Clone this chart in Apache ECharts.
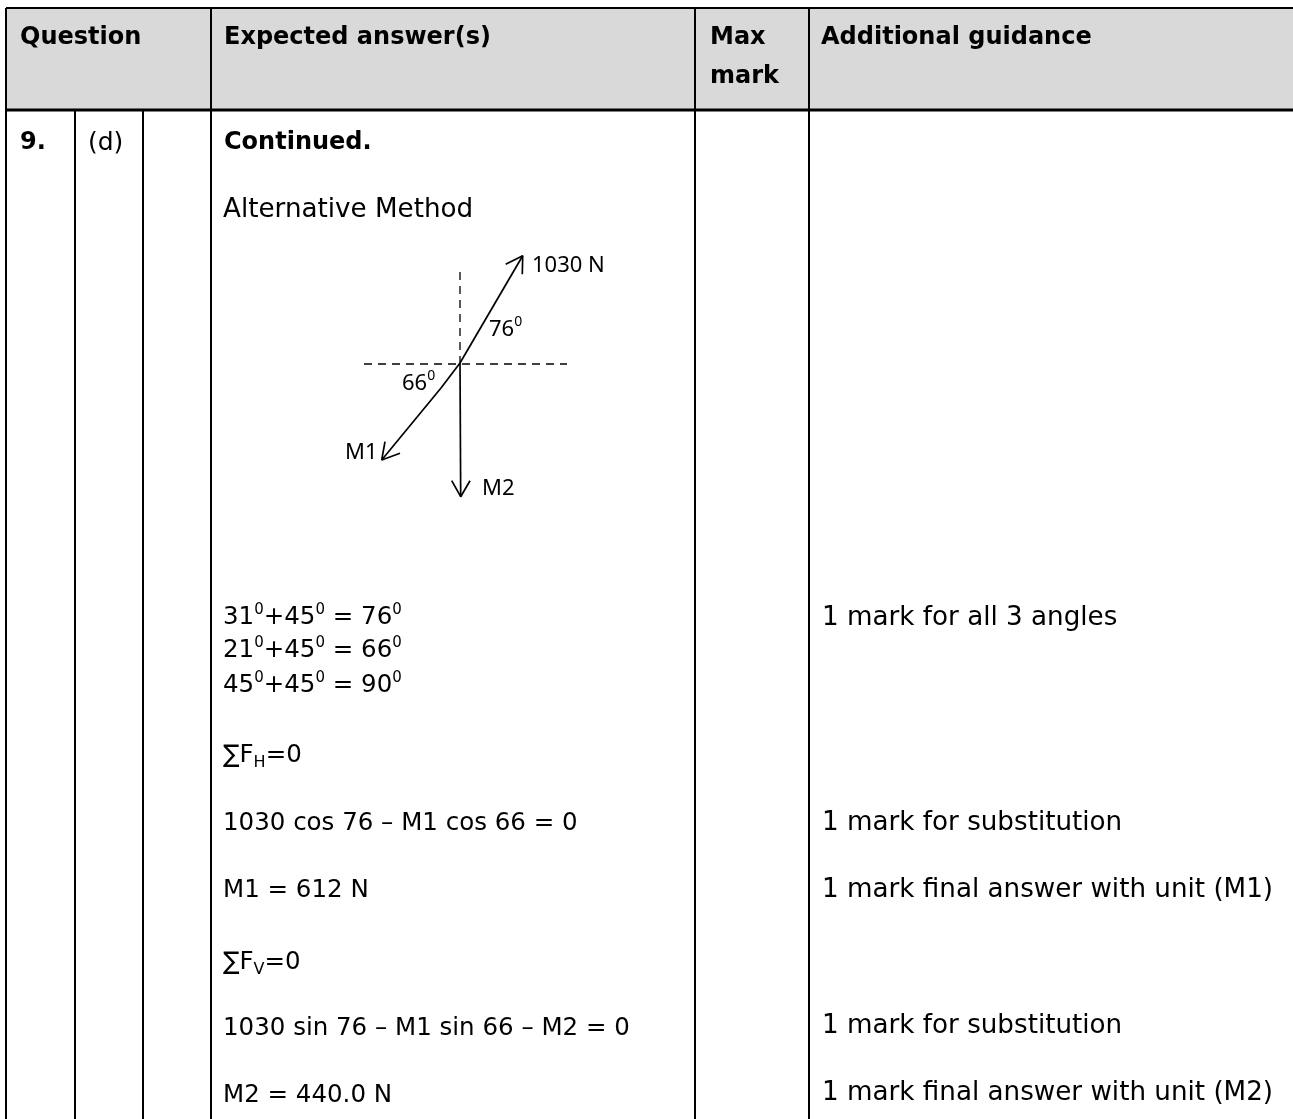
<!DOCTYPE html>
<html>
<head>
<meta charset="utf-8">
<title>Marking table</title>
<script src="https://cdn.jsdelivr.net/npm/echarts@6/dist/echarts.min.js"></script>
<style>
  html, body { margin: 0; padding: 0; background: #fff; }
  #chart { width: 1293px; height: 1119px; }
</style>
</head>
<body>
<div id="chart"></div>
<script>
// table text
const headerTexts = ['Question', 'Expected answer(s)', 'Max', 'mark', 'Additional guidance'];
const boldTexts = ['9.', 'Continued.'];
const partTexts = ['(d)'];
const methodTexts = ['Alternative Method'];
const answerTexts = [
  '31{s|0}+45{s|0} = 76{s|0}',
  '21{s|0}+45{s|0} = 66{s|0}',
  '45{s|0}+45{s|0} = 90{s|0}',
  '∑F{b|H}=0',
  '1030 cos 76 – M1 cos 66 = 0',
  'M1 = 612 N',
  '∑F{b|V}=0',
  '1030 sin 76 – M1 sin 66 – M2 = 0',
  'M2 = 440.0 N'
];
const guidanceTexts = [
  '1 mark for all 3 angles',
  '1 mark for substitution',
  '1 mark final answer with unit (M1)',
  '1 mark for substitution',
  '1 mark final answer with unit (M2)'
];
const diagramTexts = ['1030 N', '76{s2|0}', '66{s2|0}', 'M1', 'M2'];

// where the text sits
const headerX = [20, 224, 710, 710, 821];
const headerY = [38, 38, 38, 77, 38];
const boldX = [20, 224];
const boldY = [143, 143];
const partX = [88];
const partY = [143];
const methodX = [223];
const methodY = [210];
const answerX = 223;
const answerY = [618, 651, 686, 756, 824, 891, 963, 1029, 1096];
const guidanceX = 822;
const guidanceY = [618, 823, 890, 1026, 1093];
const diagramX = [532, 489, 402, 345, 482];
const diagramY = [266, 330, 384, 453, 489];

// table rules
const columnEdges = [6, 75, 143, 211, 695, 809];
const tableTop = 8;
const headerBottom = 110;
const tableBottom = 1119;
const tableRight = 1293;

// force diagram
const forceUp = [[460, 363], [522.7, 255.7]];
const forceUpHead = [[505.7, 264.3], [522.7, 255.7], [522.3, 274.3]];
const forceLeft = [[460, 363], [441, 388], [381.7, 460]];
const forceLeftHead = [[385, 441.7], [381.7, 460], [400, 453.3]];
const forceDown = [[460, 363], [460.7, 496.7]];
const forceDownHead = [[451.7, 480.7], [460.7, 496.7], [470, 480.7]];
const dashVertical = [[460, 272], [460, 363]];
const dashHorizontal = [[364, 364], [567, 364]];

const fontFamily = '"DejaVu Sans", sans-serif';
const diagramFont = '"Noto Sans", sans-serif';

function ruleSeries(points, width, type) {
  return {
    type: 'line',
    data: points,
    symbol: 'none',
    silent: true,
    lineStyle: { color: '#000', width: width, type: type || 'solid', cap: 'butt' }
  };
}

function textSeries(texts, xs, ys, size, weight, family) {
  return {
    type: 'scatter',
    symbolSize: 0,
    silent: true,
    // scatter defaults to 0.8 opacity, which turns the labels grey
    itemStyle: { opacity: 1 },
    data: texts.map((t, i) => ({
      value: [Array.isArray(xs) ? xs[i] : xs, ys[i]],
      label: {
        show: true,
        position: 'right',
        distance: 0,
        formatter: t,
        color: '#000',
        fontFamily: family,
        fontSize: size,
        fontWeight: weight,
        lineHeight: 30,
        rich: {
          s: { fontFamily: family, fontSize: 15, verticalAlign: 'top', lineHeight: 22, color: '#000' },
          s2: { fontFamily: family, fontSize: 14, verticalAlign: 'top', lineHeight: 22, color: '#000' },
          b: { fontFamily: family, fontSize: 16, verticalAlign: 'bottom', lineHeight: 22, color: '#000' }
        }
      }
    }))
  };
}

const chart = echarts.init(document.getElementById('chart'));

const series = [
  {
    type: 'custom',
    silent: true,
    data: [[columnEdges[0], tableTop, tableRight, headerBottom]],
    renderItem: (params, api) => {
      const a = api.coord([api.value(0), api.value(1)]);
      const b = api.coord([api.value(2), api.value(3)]);
      return { type: 'rect', shape: { x: a[0], y: a[1], width: b[0] - a[0], height: b[1] - a[1] }, style: { fill: '#d9d9d9' } };
    }
  },
  ruleSeries([[columnEdges[0], tableTop], [tableRight, tableTop]], 2),
  ruleSeries([[columnEdges[0], headerBottom], [tableRight, headerBottom]], 3)
];

columnEdges.forEach((x, i) => {
  // the Question header spans the first three columns
  const top = (i === 1 || i === 2) ? headerBottom : tableTop;
  series.push(ruleSeries([[x, top], [x, tableBottom]], 2));
});

[forceUp, forceUpHead, forceLeft, forceLeftHead, forceDown, forceDownHead].forEach(p => series.push(ruleSeries(p, 1.7)));
[dashVertical, dashHorizontal].forEach(p => series.push(ruleSeries(p, 1.3, [8, 6])));

series.push(textSeries(headerTexts, headerX, headerY, 24, 'bold', fontFamily));
series.push(textSeries(boldTexts, boldX, boldY, 24, 'bold', fontFamily));
series.push(textSeries(partTexts, partX, partY, 25, 'normal', fontFamily));
series.push(textSeries(methodTexts, methodX, methodY, 26.2, 'normal', fontFamily));
series.push(textSeries(answerTexts, answerX, answerY, 24.5, 'normal', fontFamily));
series.push(textSeries(guidanceTexts, guidanceX, guidanceY, 26.2, 'normal', fontFamily));
series.push(textSeries(diagramTexts, diagramX, diagramY, 22, 'normal', diagramFont));

chart.setOption({
  animation: false,
  backgroundColor: '#fff',
  grid: { left: 0, right: 0, top: 0, bottom: 0 },
  xAxis: { type: 'value', min: 0, max: 1293, show: false },
  yAxis: { type: 'value', min: 0, max: 1119, inverse: true, show: false },
  series: series
});
</script>
</body>
</html>
